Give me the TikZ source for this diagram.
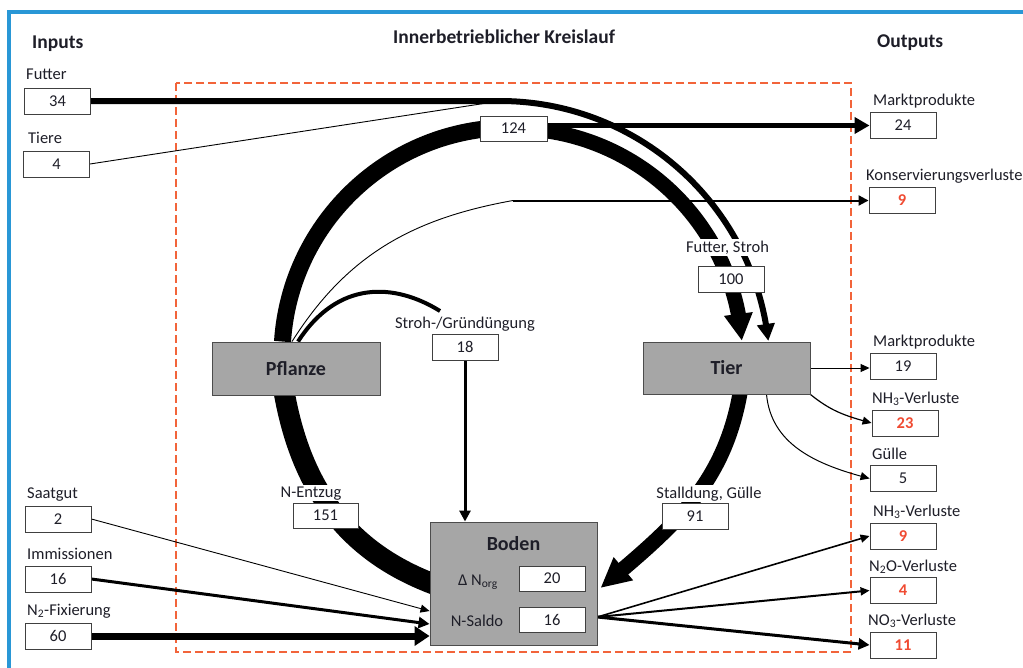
\documentclass[tikz,border=0pt]{standalone}
\usepackage{fontspec}
\setmainfont{Carlito}
\usetikzlibrary{arrows.meta,bending}
\pgfdeclarelayer{bg}
\pgfsetlayers{bg,main}
\definecolor{frameblue}{RGB}{41,151,214}
\definecolor{dashor}{RGB}{242,100,58}
\definecolor{boxgray}{RGB}{166,166,166}
\definecolor{numred}{RGB}{240,75,50}
\definecolor{txt}{RGB}{30,30,40}
\begin{document}
\begin{tikzpicture}[x=1pt,y=-1pt,
  valbox/.style={draw=black!75, line width=0.9pt, fill=white, minimum width=66pt, minimum height=26pt, inner sep=0pt, text=txt, font=\fontsize{16.5}{18}\selectfont},
  redbox/.style={valbox, text=numred, font=\fontsize{16.5}{18}\selectfont\bfseries},
  lbl/.style={inner sep=0pt, text=txt, font=\fontsize{16.5}{18}\selectfont, anchor=base west},
  mlbl/.style={inner sep=1.5pt, fill=white, text=txt, font=\fontsize{16.5}{18}\selectfont, anchor=base},
  inlbl/.style={inner sep=0pt, text=txt, font=\fontsize{16.5}{18}\selectfont, anchor=base},
  head/.style={inner sep=0pt, text=txt, font=\fontsize{19.5}{22}\selectfont\bfseries, anchor=base west},
  proc/.style={draw=black!70, line width=0.9pt, fill=boxgray, inner sep=0pt, text=txt, font=\fontsize{20}{22}\selectfont\bfseries},
  tipS/.style={-{Triangle[length=9pt,width=8pt]}},
  tipM/.style={-{Triangle[length=11pt,width=11pt]}},
  tipL/.style={-{Triangle[length=15pt,width=16pt]}},
]
\clip (0,0) rectangle (1023,667);
% headings
\node[head] (hin) at (32,48) {Inputs};
\node[head] (hmid) at (393,43) {Innerbetrieblicher Kreislauf};
\node[head] (hout) at (877,47) {Outputs};
% inputs
\node[lbl] (lfut) at (26,79) {Futter};
\node[valbox] (b34) at (57.5,101) {34};
\node[lbl] (ltie) at (28,143) {Tiere};
\node[valbox] (b4) at (56.5,164) {4};
\node[lbl] (lsaa) at (27,498) {Saatgut};
\node[valbox] (b2) at (58,519) {2};
\node[lbl] (limm) at (27,559) {Immissionen};
\node[valbox] (b16i) at (58,579) {16};
\node[lbl] (lfix) at (27,615) {N\textsubscript{2}-Fixierung};
\node[valbox] (b60) at (58,636) {60};
% outputs
\node[lbl] (lmp1) at (873,105) {Marktprodukte};
\node[valbox] (b24) at (903,125.5) {24};
\node[lbl] (lkon) at (866,180) {Konservierungsverluste};
\node[redbox] (b9k) at (902,200.5) {9};
\node[lbl] (lmp2) at (873,346) {Marktprodukte};
\node[valbox] (b19) at (903,366) {19};
\node[lbl] (lnh1) at (872,403) {NH\textsubscript{3}-Verluste};
\node[redbox] (b23) at (905,423) {23};
\node[lbl] (lgue) at (872,459) {Gülle};
\node[valbox] (b5) at (903,478.5) {5};
\node[lbl] (lnh2) at (873,516) {NH\textsubscript{3}-Verluste};
\node[redbox] (b9n) at (903,536) {9};
\node[lbl] (ln2o) at (869,571) {N\textsubscript{2}O-Verluste};
\node[redbox] (b4n) at (903,590.5) {4};
\node[lbl] (lno3) at (868,625) {NO\textsubscript{3}-Verluste};
\node[redbox] (b11) at (903,645) {11};
% middle
\node[valbox, minimum width=67pt, minimum height=25pt] (b124) at (513.5,128.5) {124};
\node[mlbl] (lfs) at (727.5,252) {Futter, Stroh};
\node[valbox] (b100) at (731,279) {100};
\node[mlbl] (lsg) at (465,328) {Stroh-/Gründüngung};
\node[valbox] (b18) at (465,347) {18};
\node[mlbl] (lne) at (311,497) {N-Entzug};
\node[valbox, minimum width=65pt, minimum height=25pt] (b151) at (325.5,515.5) {151};
\node[mlbl] (lsd) at (709,498) {Stalldung, Gülle};
\node[valbox] (b91) at (695,516) {91};
% processes
\node[proc, minimum width=168pt, minimum height=53pt] (pflanze) at (296,368.5) {Pflanze};
\node[proc, minimum width=167pt, minimum height=52pt] (tier) at (726.5,368) {Tier};
\node[proc, minimum width=167pt, minimum height=123pt] (boden) at (513.5,583.5) {};
\node[anchor=base, inner sep=0pt, text=txt, font=\fontsize{20}{22}\selectfont\bfseries] (lbod) at (513.5,550) {Boden};
\node[inlbl] (lnorg) at (478,585) {Δ N\textsubscript{org}};
\node[valbox, minimum width=66pt, minimum height=25pt] (b20) at (552,578.5) {20};
\node[inlbl] (lsal) at (477,626) {N-Saldo};
\node[valbox, minimum width=66pt, minimum height=25pt] (b16s) at (552,619.5) {16};

\begin{pgfonlayer}{bg}
\fill[white] (0,0) rectangle (1023,667);
\draw[frameblue, line width=3.2pt] (9,12) rectangle (1100,720);
\draw[dashor, line width=2.8pt, dash pattern=on 8pt off 4pt] (176,83) rectangle (851,652);
\coordinate (fj) at (500,101);
\coordinate (kj) at (513,200.5);
\coordinate (se) at (440,311);
% main ring
\draw[line width=17pt] ([xshift=-13.5pt]pflanze.north) arc[start angle=183.75, end angle=270, radius=229];
\draw[line width=15pt, -{Triangle[length=27pt,width=27pt]}] (b124.center) arc[start angle=270, end angle=355.8, radius=229];
\draw[line width=21pt] ([xshift=-12pt,yshift=4pt]pflanze.south) .. controls +(17,96) and +(-91,-33) .. ([xshift=8pt,yshift=-2pt]boden.west);
\draw[line width=15pt, -{Triangle[length=30pt,width=28pt]}] ([xshift=14pt,yshift=4pt]tier.south) .. controls +(-16,94) and +(73,-61) .. ([xshift=3pt,yshift=-4.5pt]boden.east);
% Futter / Tiere
\draw[line width=6pt, -{Triangle[length=17pt,width=17pt]}] (b34.east) -- (fj) arc[start angle=270, end angle=353.6, radius=270];
\draw[line width=0.9pt] (b4.east) -- (fj);
% Marktprodukte 24
\draw[line width=5pt, tipL] (b124.east |- b24.west) -- (b24.west);
% Konservierungsverluste
\draw[line width=0.9pt] ([xshift=-4pt]pflanze.north) .. controls +(55,-87) and +(-100,18) .. (kj);
\draw[line width=2pt, -{Triangle[length=10pt,width=10pt]}] (kj) -- (b9k.west);
% Stroh-/Gruenduengung
\draw[line width=4pt] ([xshift=2pt]pflanze.north) .. controls +(40,-62) and +(-45,-28) .. (se);
\draw[line width=3pt, tipM] (b18.south) -- (b18.south |- boden.north);
% Tier outputs
\draw[line width=1pt, tipS] (tier.east) -- (tier.east -| b19.west);
\draw[line width=1.2pt, tipS] (tier.south east) .. controls +(21,17) and +(-26,-7) .. (b23.west);
\draw[line width=1pt, tipS] ([xshift=40pt]tier.south) .. controls +(5,52) and +(-50,-13) .. (b5.west);
% inputs to Boden
\draw[line width=0.9pt, tipS] (b2.east) -- ([yshift=-27.5pt]boden.west);
\draw[line width=3pt, tipM] (b16i.east) -- ([yshift=-40.5pt]boden.west);
\draw[line width=7pt, -{Triangle[length=15pt,width=19pt]}] (b60.east) -- ([yshift=-52.5pt]boden.west);
% Boden outputs
\draw[line width=1.6pt, tipS] ([yshift=-33.5pt]boden.east) -- (b9n.west);
\draw[line width=2pt, tipS] ([yshift=-33.5pt]boden.east) -- (b4n.west);
\draw[line width=3pt, tipM] ([yshift=-33.5pt]boden.east) -- (b11.west);
\end{pgfonlayer}
\end{tikzpicture}
\end{document}
